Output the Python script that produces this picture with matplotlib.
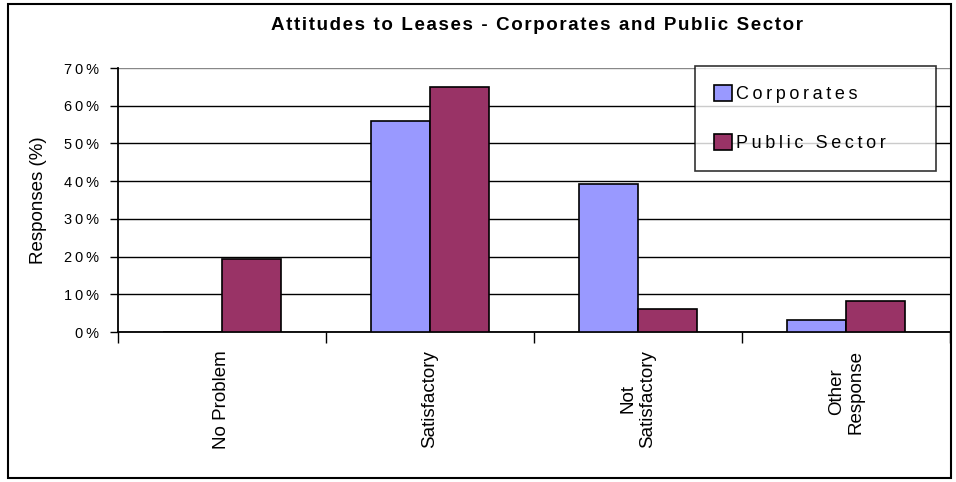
import numpy as np
import matplotlib
matplotlib.use("Agg")
import matplotlib.pyplot as plt
from matplotlib.patches import Rectangle

plt.rcParams['font.family'] = ['Liberation Sans', 'DejaVu Sans']

# data
categories = ["No Problem", "Satisfactory", "Not\nSatisfactory", "Other\nResponse"]
corporates = [0.0, 56.0, 39.3, 3.1]
public_sector = [19.4, 65.0, 6.1, 8.3]
series_names = ["Corporates", "Public Sector"]
yticks = [0, 10, 20, 30, 40, 50, 60, 70]
title = "Attitudes to Leases - Corporates and Public Sector"


def spaced(s, sp="\u200a"):
    # fake the wide letter spacing of the original
    return sp.join(list(s))


W, H = 956, 482
fig = plt.figure(figsize=(W / 100, H / 100), dpi=100)
ax = fig.add_axes([118 / W, 1 - 332 / H, (950 - 118) / W, (332 - 68) / H])

x = np.arange(len(categories))
w = 0.285
ax.bar(x - w / 2, corporates, w, color="#9999FF", edgecolor="black", linewidth=1.2,
       label=spaced(series_names[0], "\u2009"), zorder=3)
ax.bar(x + w / 2, public_sector, w, color="#993366", edgecolor="black", linewidth=1.2,
       label=spaced(series_names[1], "\u2009"), zorder=3)

ax.set_xlim(-0.5, len(categories) - 0.5)
ax.set_ylim(0, 70)
ax.set_yticks(yticks)
ax.set_yticklabels([spaced("%d%%" % t, "\u2009") for t in yticks], fontsize=10.5)
ax.yaxis.grid(True, color="black", linewidth=1.0, zorder=0)
for gl in ax.get_ygridlines()[-1:]:
    gl.set_color("#888888")
ax.tick_params(axis="y", direction="out", length=6, width=1, pad=8)

# category boundaries get the tick marks, labels sit on the centres
ax.set_xticks(np.arange(-0.5, len(categories)), labels=[])
ax.set_xticks(x, labels=categories, minor=True)
ax.tick_params(axis="x", which="major", direction="out", length=8, width=1)
ax.tick_params(axis="x", which="minor", length=0, pad=13, labelsize=13.5)
for lab in ax.get_xticklabels(minor=True):
    lab.set_rotation(90)
    lab.set_va("top")
    lab.set_ha("center")
    lab.set_multialignment("center")

for s in ["top", "right"]:
    ax.spines[s].set_visible(False)
ax.spines["left"].set_linewidth(1.3)
ax.spines["bottom"].set_linewidth(1.3)

ax.set_ylabel("Responses (%)", fontsize=13.5)
ax.yaxis.set_label_coords(-0.085, 0.5)

fig.text(537 / W, 1 - 26 / H, spaced(title), fontsize=13.5, fontweight="bold",
         ha="center", va="center")

leg = ax.legend(loc="upper left", bbox_to_anchor=(695 / W, 1 - 170 / H, 241 / W, 104 / H),
                bbox_transform=fig.transFigure, mode="expand", fontsize=13,
                frameon=True, fancybox=False, borderpad=1.05, labelspacing=1.7,
                handlelength=1.0, handleheight=1.0, handletextpad=0.2, borderaxespad=0)
leg.get_frame().set_edgecolor("black")
leg.get_frame().set_linewidth(1.2)

# outer chart frame
fig.patches.append(Rectangle((8 / W, 4 / H), (951 - 8) / W, (478 - 4) / H,
                             transform=fig.transFigure, fill=False,
                             edgecolor="black", linewidth=1.5))

fig.savefig("out.png", dpi=100)
